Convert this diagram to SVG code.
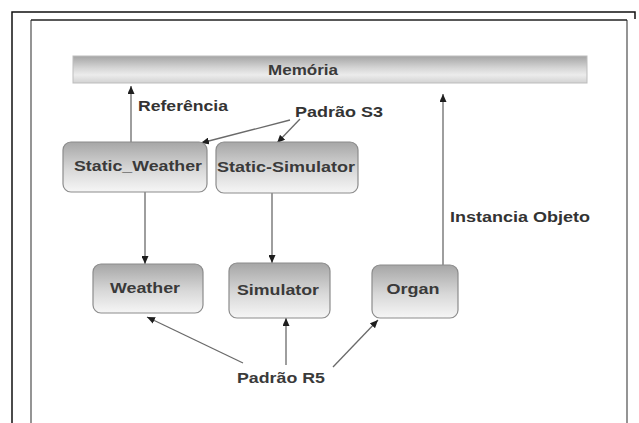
<svg xmlns="http://www.w3.org/2000/svg" width="639" height="423" viewBox="0 0 639 423">
  <style>
    .frame-outer { fill: none; stroke: #111; stroke-width: 1.5; }
    .frame-gray { fill: none; stroke: #7a7a7a; stroke-width: 1.6; }
    .frame-top { fill: none; stroke: #222; stroke-width: 1.4; }
    .box { fill: url(#boxGrad); stroke: #8c8c8c; stroke-width: 1.2; }
    .bar { fill: url(#barGrad); stroke: #bdbdbd; stroke-width: 1; }
    .lbl { font-family: "Liberation Sans", Arial, sans-serif; font-weight: bold; font-size: 14px; fill: #3a3a3a; text-anchor: middle; dominant-baseline: central; }
    .note { font-family: "Liberation Sans", Arial, sans-serif; font-weight: bold; font-size: 14px; fill: #333; dominant-baseline: central; }
    .conn { fill: none; stroke: #6a6a6a; stroke-width: 1.3; marker-end: url(#ah); }
  </style>
  <defs>
    <linearGradient id="boxGrad" x1="0" y1="0" x2="0" y2="1">
      <stop offset="0" stop-color="#a6a6a6"/>
      <stop offset="0.55" stop-color="#d8d8d8"/>
      <stop offset="1" stop-color="#f6f6f6"/>
    </linearGradient>
    <linearGradient id="barGrad" x1="0" y1="0" x2="0" y2="1">
      <stop offset="0" stop-color="#a4a4a4"/>
      <stop offset="0.45" stop-color="#d6d6d6"/>
      <stop offset="0.7" stop-color="#ececec"/>
      <stop offset="1" stop-color="#d2d2d2"/>
    </linearGradient>
    <marker id="ah" markerUnits="userSpaceOnUse" markerWidth="9" markerHeight="7" refX="8" refY="3.5" orient="auto">
      <path d="M0,0 L8,3.5 L0,7 z" fill="#1e1e1e"/>
    </marker>
  </defs>

  <rect width="639" height="423" fill="#ffffff"/>

  <!-- page frames -->
  <polyline class="frame-outer" points="12,423 12,12 635,12 635,19"/>
  <line class="frame-gray" x1="31" y1="20" x2="31" y2="423"/>
  <line class="frame-gray" x1="627" y1="20" x2="627" y2="423"/>
  <line class="frame-top" x1="31" y1="20" x2="627" y2="20"/>

  <g id="connectors">
    <line class="conn" x1="131" y1="143" x2="131" y2="86"/>
    <line class="conn" x1="290" y1="120" x2="201" y2="143"/>
    <line class="conn" x1="300" y1="119" x2="277" y2="143"/>
    <line class="conn" x1="145" y1="192" x2="145" y2="264"/>
    <line class="conn" x1="272" y1="193" x2="272" y2="263"/>
    <line class="conn" x1="443" y1="265" x2="443" y2="94"/>
    <line class="conn" x1="243" y1="363" x2="147" y2="317"/>
    <line class="conn" x1="286" y1="365" x2="286" y2="318"/>
    <line class="conn" x1="333" y1="367" x2="378" y2="320"/>
  </g>

  <g id="memoria">
    <rect class="bar" x="73" y="56" width="514" height="27"/>
    <text class="lbl" x="303" y="70" textLength="70" lengthAdjust="spacingAndGlyphs">Memória</text>
  </g>

  <g id="static-weather">
    <rect class="box" x="63" y="142" width="144" height="50" rx="8"/>
    <text class="lbl" x="138" y="166" textLength="128" lengthAdjust="spacingAndGlyphs">Static_Weather</text>
  </g>

  <g id="static-simulator">
    <rect class="box" x="216" y="142" width="142" height="51" rx="8"/>
    <text class="lbl" x="286" y="167" textLength="138" lengthAdjust="spacingAndGlyphs">Static-Simulator</text>
  </g>

  <g id="weather">
    <rect class="box" x="93" y="264" width="110" height="49" rx="8"/>
    <text class="lbl" x="145" y="288" textLength="70" lengthAdjust="spacingAndGlyphs">Weather</text>
  </g>

  <g id="simulator">
    <rect class="box" x="229" y="263" width="101" height="55" rx="8"/>
    <text class="lbl" x="278" y="290" textLength="82" lengthAdjust="spacingAndGlyphs">Simulator</text>
  </g>

  <g id="organ">
    <rect class="box" x="372" y="265" width="86" height="53" rx="8"/>
    <text class="lbl" x="413" y="289" textLength="53" lengthAdjust="spacingAndGlyphs">Organ</text>
  </g>

  <g id="label-referencia">
    <text class="note" x="138" y="106" textLength="90" lengthAdjust="spacingAndGlyphs">Referência</text>
  </g>

  <g id="padrao-s3">
    <text class="note" x="295" y="112" textLength="88" lengthAdjust="spacingAndGlyphs">Padrão S3</text>
  </g>

  <g id="label-instancia">
    <text class="note" x="450" y="217" textLength="140" lengthAdjust="spacingAndGlyphs">Instancia Objeto</text>
  </g>

  <g id="padrao-r5">
    <text class="note" x="237" y="377" textLength="88" lengthAdjust="spacingAndGlyphs" style="font-size:15px;fill:#3a3a3a">Padrão R5</text>
  </g>
</svg>
